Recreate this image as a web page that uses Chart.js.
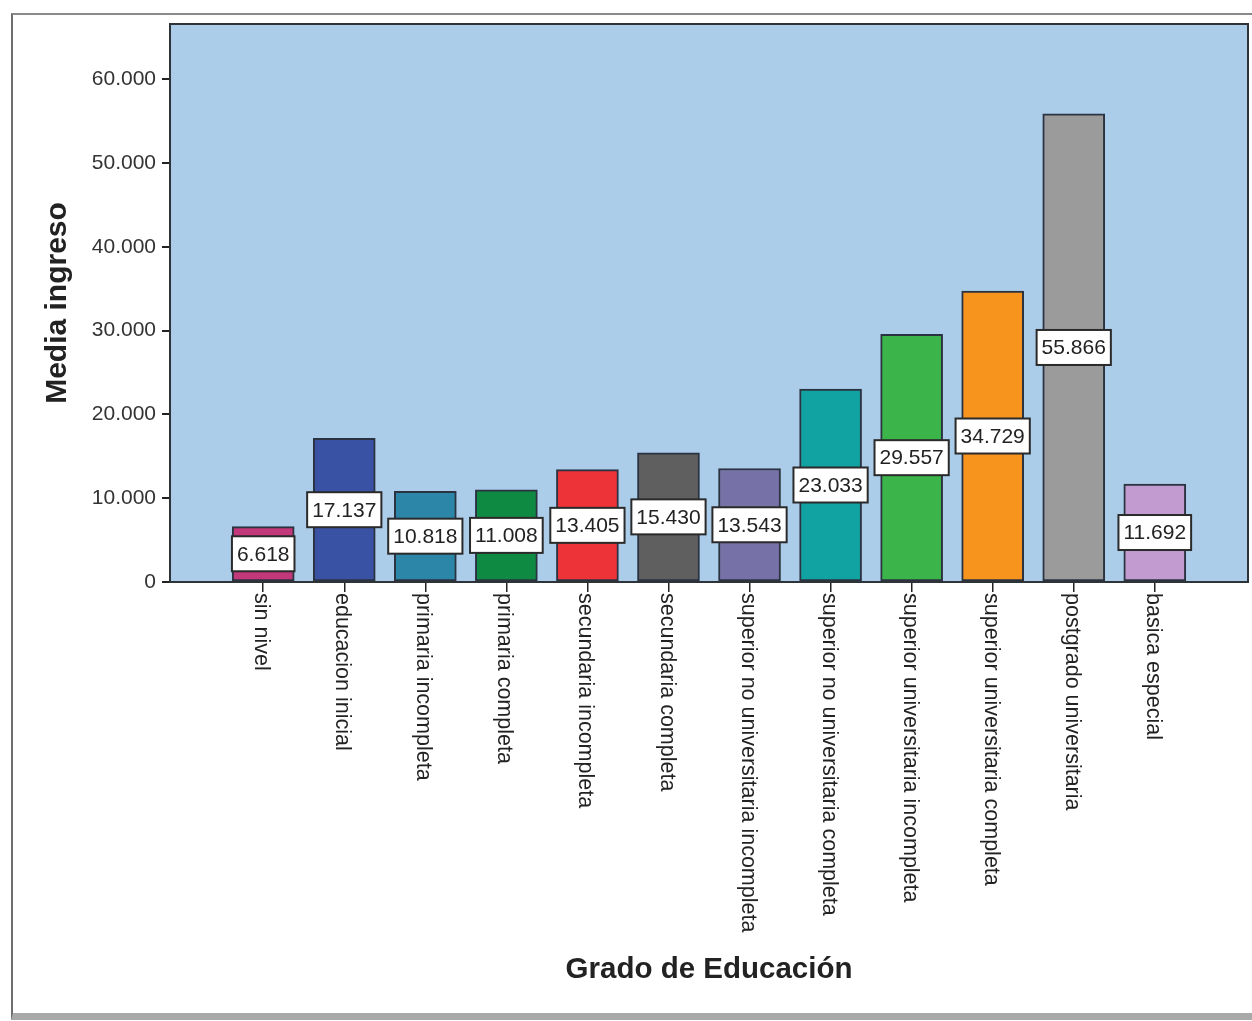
<!DOCTYPE html>
<html>
<head>
<meta charset="utf-8">
<script src="https://cdn.jsdelivr.net/npm/chart.js@4/dist/chart.umd.min.js"></script>
<style>
  html, body { margin: 0; padding: 0; background: #fff; }
  #wrap { position: relative; width: 1252px; height: 1021px; overflow: hidden; }
  #frame {
    position: absolute; left: 11px; top: 13px; width: 1260px; height: 998px;
    border-left: 2px solid #6f6f6f; border-top: 2px solid #8a8a8a;
    border-bottom: 7px solid #a9a9a9; box-sizing: content-box;
  }
  canvas { position: absolute; left: 0; top: 0; }
</style>
</head>
<body>
<div id="wrap">
  <div id="frame"></div>
  <canvas id="chart" width="1252" height="1021"></canvas>
</div>
<script>
// datos
const categorias = [
  'sin nivel', 'educacion inicial', 'primaria incompleta', 'primaria completa',
  'secundaria incompleta', 'secundaria completa', 'superior no universitaria incompleta',
  'superior no universitaria completa', 'superior universitaria incompleta',
  'superior universitaria completa', 'postgrado universitaria', 'basica especial'
];
const mediaIngreso = [6618, 17137, 10818, 11008, 13405, 15430, 13543, 23033, 29557, 34729, 55866, 11692];
const coloresBarras = [
  '#c2387a', '#3a52a3', '#2b86a8', '#0f8a43', '#ee3338', '#5f5f5f',
  '#7672a8', '#10a3a2', '#3bb54a', '#f7941d', '#9b9b9b', '#c29bd1'
];
const ticksY = [0, 10000, 20000, 30000, 40000, 50000, 60000];

const fuente = "'Liberation Sans', Arial, sans-serif";

// formato con punto de miles: 17137 -> 17.137
const fmt = v => v.toLocaleString('de-DE');

// fondo azul y borde del area del grafico
const fondoPlugin = {
  id: 'fondo',
  beforeDraw(chart) {
    const { ctx, chartArea: a } = chart;
    ctx.save();
    ctx.fillStyle = '#abcdea';
    ctx.fillRect(a.left, a.top, a.right - a.left, a.bottom - a.top);
    ctx.restore();
  },
  afterDatasetsDraw(chart) {
    const { ctx, chartArea: a } = chart;
    ctx.save();
    ctx.strokeStyle = '#2e3338';
    ctx.lineWidth = 2;
    ctx.strokeRect(a.left, a.top, a.right - a.left, a.bottom - a.top);
    ctx.restore();
  }
};

// cajas blancas con el valor en el medio de cada barra
const etiquetasPlugin = {
  id: 'etiquetas',
  afterDatasetsDraw(chart) {
    const { ctx } = chart;
    const meta = chart.getDatasetMeta(0);
    ctx.save();
    ctx.font = '21px ' + fuente;
    ctx.textAlign = 'center';
    ctx.textBaseline = 'middle';
    meta.data.forEach((bar, i) => {
      const txt = fmt(mediaIngreso[i]);
      const w = ctx.measureText(txt).width + 10;
      const h = 35;
      const cy = (bar.y + bar.base) / 2;
      ctx.fillStyle = '#ffffff';
      ctx.fillRect(bar.x - w / 2, cy - h / 2, w, h);
      ctx.strokeStyle = '#2a2a2a';
      ctx.lineWidth = 2;
      ctx.strokeRect(bar.x - w / 2, cy - h / 2, w, h);
      ctx.fillStyle = '#222';
      ctx.fillText(txt, bar.x, cy + 1);
    });
    ctx.restore();
  }
};

// etiquetas del eje x giradas, leyendo de arriba hacia abajo
const ejeXPlugin = {
  id: 'ejeX',
  afterDraw(chart) {
    const { ctx } = chart;
    const x = chart.scales.x;
    ctx.save();
    ctx.font = '21.5px ' + fuente;
    ctx.fillStyle = '#222';
    ctx.textAlign = 'left';
    ctx.textBaseline = 'middle';
    categorias.forEach((c, i) => {
      const px = x.getPixelForValue(i);
      ctx.save();
      ctx.translate(px - 2, x.top + 11);
      ctx.rotate(Math.PI / 2);
      ctx.fillText(c, 0, 0);
      ctx.restore();
    });
    ctx.restore();
  }
};

new Chart(document.getElementById('chart'), {
  type: 'bar',
  data: {
    datasets: [{
      data: mediaIngreso.map((v, i) => ({ x: i, y: v })),
      backgroundColor: coloresBarras,
      borderColor: '#2b3340',
      borderWidth: 2,
      borderSkipped: false,
      barThickness: 62
    }]
  },
  options: {
    responsive: false,
    animation: false,
    layout: { padding: { top: 24, right: 4, bottom: 0, left: 0 } },
    plugins: {
      legend: { display: false },
      tooltip: { enabled: false }
    },
    scales: {
      x: {
        type: 'linear',
        min: -1.15,
        max: 12.15,
        offset: false,
        afterBuildTicks: axis => { axis.ticks = categorias.map((c, i) => ({ value: i })); },
        afterFit: axis => { axis.height = 1021 - 582; },
        grid: { offset: false, drawOnChartArea: false, drawTicks: true, tickLength: 10, color: '#222', lineWidth: 1.5 },
        border: { display: false },
        ticks: { display: false },
        title: {
          display: true,
          text: 'Grado de Educación',
          color: '#222',
          font: { family: fuente, size: 29.5, weight: 'bold' },
          padding: { top: 0, bottom: 33 }
        }
      },
      y: {
        min: 0,
        max: 66600,
        afterBuildTicks: axis => { axis.ticks = ticksY.map(v => ({ value: v })); },
        afterFit: axis => { axis.width = 170; },
        grid: { drawOnChartArea: false, drawTicks: true, tickLength: 8, color: '#222', lineWidth: 2 },
        border: { display: false },
        ticks: {
          color: '#333',
          padding: 6,
          font: { family: fuente, size: 21 },
          callback: v => fmt(v)
        },
        title: {
          display: true,
          text: 'Media ingreso',
          color: '#222',
          font: { family: fuente, size: 30, weight: 'bold' },
          padding: { top: 40, bottom: 0 }
        }
      }
    }
  },
  plugins: [fondoPlugin, etiquetasPlugin, ejeXPlugin]
});
</script>
</body>
</html>
